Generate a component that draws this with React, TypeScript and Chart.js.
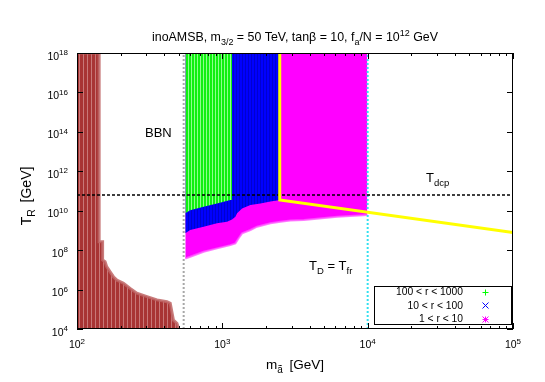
import { useEffect, useRef } from 'react';
import { Chart, registerables } from 'chart.js';
Chart.register(...registerables);

const FONT = '"Liberation Sans", Arial, Helvetica, sans-serif';

// axis ranges
const X_MIN = 100, X_MAX = 1e5, Y_MIN = 1e4, Y_MAX = 1e18;
const xTickExps = [2, 3, 4, 5];
const yTickExps = [4, 6, 8, 10, 12, 14, 16, 18];

// regions (boundaries)
const brownM = [100, 142, 142, 150, 150, 156, 160, 169, 178, 188, 209, 232, 258, 303, 355, 416, 438, 461, 487, 500];
const brownT = [1e18, 1e18, 2.7e8, 2.7e8, 3.2e7, 2.6e7, 1.45e7, 7.9e6, 4.5e6, 3.0e6, 2.1e6, 1.15e6, 6.5e5, 4.4e5, 3.0e5, 2.4e5, 2.0e5, 2.8e4, 1.95e4, 1.07e4];

const greenM = [556, 601, 743, 919, 1135, 1166];
const greenT = [7.4e9, 1.07e10, 1.6e10, 2.3e10, 3.5e10, 3.5e10];

const blueM = [556, 601, 743, 919, 1077, 1166, 1230, 1263, 1367, 1560, 1827, 2142, 2500];
const blueT = [7.1e8, 1.05e9, 1.55e9, 2.3e9, 2.75e9, 3.6e9, 5e9, 7.4e9, 1.3e10, 1.95e10, 2.35e10, 2.9e10, 3.5e10];

const magM = [556, 601, 743, 919, 1135, 1230, 1295, 1367, 1560, 1734, 2142, 2512, 2944, 3639, 6180, 9950];
const magT = [3.8e7, 4.6e7, 8.3e7, 1.23e8, 1.8e8, 2.2e8, 4e8, 7.1e8, 1.05e9, 1.55e9, 2.3e9, 2.75e9, 3.2e9, 3.4e9, 4.9e9, 6e9];

const yellowM = [2483, 2483, 1e5];
const yellowT = [1e18, 3.47e10, 7.9e8];

const T_DCP = 6.25e10;
const M_BBN = 542;
const M_FR = 1e4;

const legendLabels = ['100 < r < 1000', '10 < r < 100', '1 < r < 10'];

type Part = { t: string; k?: 'sub' | 'sup' };

function drawRich(ctx: CanvasRenderingContext2D, parts: Part[], x: number, y: number, align: 'left' | 'center' | 'right', size: number, small: number) {
  let w = 0;
  for (const p of parts) {
    ctx.font = `${p.k ? small : size}px ${FONT}`;
    w += ctx.measureText(p.t).width;
  }
  let cx = align === 'center' ? x - w / 2 : align === 'right' ? x - w : x;
  ctx.textAlign = 'left';
  ctx.textBaseline = 'alphabetic';
  for (const p of parts) {
    ctx.font = `${p.k ? small : size}px ${FONT}`;
    const dy = p.k === 'sub' ? size * 0.3 : p.k === 'sup' ? -size * 0.42 : 0;
    ctx.fillText(p.t, cx, y + dy);
    cx += ctx.measureText(p.t).width;
  }
}

function makePattern(base: string, stripe: string, period: number): CanvasPattern | string {
  const c = document.createElement('canvas');
  c.width = period;
  c.height = 6;
  const g = c.getContext('2d');
  if (!g) return base;
  g.fillStyle = base;
  g.fillRect(0, 0, period, 6);
  g.fillStyle = stripe;
  g.fillRect(period - 1, 0, 1, 6);
  const p = g.createPattern(c, 'repeat');
  return p || base;
}

const pts = (m: number[], t: number[]) => m.map((v, i) => ({ x: v, y: t[i] }));

const framePlugin = {
  id: 'frame',
  afterDraw(chart: any) {
    const ctx: CanvasRenderingContext2D = chart.ctx;
    const { left, right, top, bottom } = chart.chartArea;
    const xs = chart.scales.x;
    const ys = chart.scales.y;
    ctx.save();
    ctx.strokeStyle = '#000';
    ctx.lineWidth = 1;
    ctx.strokeRect(Math.round(left) + 0.5, Math.round(top) + 0.5, Math.round(right - left) - 1, Math.round(bottom - top) - 1);
    // x ticks
    ctx.beginPath();
    for (let e = 2; e <= 5; e++) {
      for (let k = 1; k <= 9; k++) {
        const v = k * Math.pow(10, e);
        if (v > X_MAX) break;
        const px = Math.round(xs.getPixelForValue(v)) + 0.5;
        const len = k === 1 ? 6 : 3;
        ctx.moveTo(px, bottom);
        ctx.lineTo(px, bottom - len);
        ctx.moveTo(px, top);
        ctx.lineTo(px, top + len);
      }
    }
    for (const e of yTickExps) {
      const py = Math.round(ys.getPixelForValue(Math.pow(10, e))) + 0.5;
      ctx.moveTo(left, py);
      ctx.lineTo(left + 6, py);
      ctx.moveTo(right, py);
      ctx.lineTo(right - 6, py);
    }
    ctx.stroke();

    ctx.fillStyle = '#000';
    for (const e of xTickExps) {
      const px = xs.getPixelForValue(Math.pow(10, e));
      drawRich(ctx, [{ t: '10' }, { t: String(e), k: 'sup' }], px, bottom + 19, 'center', 10.5, 8);
    }
    for (const e of yTickExps) {
      const py = ys.getPixelForValue(Math.pow(10, e));
      drawRich(ctx, [{ t: '10' }, { t: String(e), k: 'sup' }], left - 9, py + 6.5, 'right', 10.5, 8);
    }

    // title
    drawRich(ctx, [
      { t: 'inoAMSB, m' }, { t: '3/2', k: 'sub' }, { t: ' = 50 TeV, tanβ = 10, f' }, { t: 'a', k: 'sub' },
      { t: '/N = 10' }, { t: '12', k: 'sup' }, { t: ' GeV' },
    ], (left + right) / 2, 41, 'center', 12.4, 9);

    // axis titles
    drawRich(ctx, [{ t: 'm' }, { t: 'ã ', k: 'sub' }, { t: ' [GeV]' }], (left + right) / 2, 369, 'center', 13.5, 10);
    ctx.save();
    ctx.translate(31, 196);
    ctx.rotate(-Math.PI / 2);
    drawRich(ctx, [{ t: 'T' }, { t: 'R ', k: 'sub' }, { t: ' [GeV]' }], 0, 0, 'center', 14, 10.5);
    ctx.restore();

    // annotations
    drawRich(ctx, [{ t: 'BBN' }], 145, 137, 'left', 13, 9);
    drawRich(ctx, [{ t: 'T' }, { t: 'dcp', k: 'sub' }], 426, 182, 'left', 13, 9.5);
    drawRich(ctx, [{ t: 'T' }, { t: 'D', k: 'sub' }, { t: ' = T' }, { t: 'fr', k: 'sub' }], 309, 270, 'left', 13, 9.5);

    // legend
    const bx = 374.5, by = 286.5, bw = 137, bh = 38;
    ctx.fillStyle = '#fff';
    ctx.fillRect(bx, by, bw, bh);
    ctx.strokeStyle = '#000';
    ctx.lineWidth = 1;
    ctx.strokeRect(bx, by, bw, bh);
    const rowsY = [291.5, 305, 318.5];
    const mcols = ['#00ff00', '#0000ff', '#ff00ff'];
    ctx.fillStyle = '#000';
    legendLabels.forEach((lab, i) => {
      drawRich(ctx, [{ t: lab }], 463, rowsY[i] + 3.6, 'right', 10.3, 8);
    });
    ctx.lineWidth = 1;
    rowsY.forEach((y, i) => {
      const cx = 485.5, cy = Math.round(y) + 0.5, s = 3;
      ctx.strokeStyle = mcols[i];
      ctx.beginPath();
      if (i === 0 || i === 2) {
        ctx.moveTo(cx - s, cy); ctx.lineTo(cx + s, cy);
        ctx.moveTo(cx, cy - s); ctx.lineTo(cx, cy + s);
      }
      if (i === 1 || i === 2) {
        ctx.moveTo(cx - s, cy - s); ctx.lineTo(cx + s, cy + s);
        ctx.moveTo(cx - s, cy + s); ctx.lineTo(cx + s, cy - s);
      }
      ctx.stroke();
    });
    ctx.restore();
  },
};

export default function App() {
  const ref = useRef<HTMLCanvasElement | null>(null);
  useEffect(() => {
    document.body.style.margin = '0';
    const canvas = ref.current;
    if (!canvas) return;
    const brownFill = makePattern('#a83434', '#c87878', 4);
    const greenFill = makePattern('#10f010', '#8cff8c', 3);
    const blueFill = makePattern('#0000ff', '#0000d0', 3);
    const chart = new Chart(canvas, {
      type: 'scatter',
      data: {
        datasets: [
          { label: 'yellow', data: pts(yellowM, yellowT), showLine: true, borderColor: '#ffff00', borderWidth: 3, pointRadius: 0, fill: false, order: 0 },
          { label: 'Tdcp', data: [{ x: X_MIN, y: T_DCP }, { x: X_MAX, y: T_DCP }], showLine: true, borderColor: '#000', borderWidth: 1.3, borderDash: [3, 2], pointRadius: 0, fill: false, order: 1 },
          { label: 'freeze', data: [{ x: M_FR, y: Y_MIN }, { x: M_FR, y: Y_MAX }], showLine: true, borderColor: '#33e0f0', borderWidth: 2, borderDash: [2, 2], pointRadius: 0, fill: false, order: 2 },
          { label: 'BBN', data: [{ x: M_BBN, y: Y_MIN }, { x: M_BBN, y: Y_MAX }], showLine: true, borderColor: '#a8a8a8', borderWidth: 2, borderDash: [2, 2], pointRadius: 0, fill: false, order: 3 },
          { label: legendLabels[0], data: pts(greenM, greenT), showLine: true, borderWidth: 0, borderColor: 'rgba(0,0,0,0)', backgroundColor: greenFill as any, pointRadius: 0, fill: 'end', order: 5 },
          { label: legendLabels[1], data: pts(blueM, blueT), showLine: true, borderWidth: 0, borderColor: 'rgba(0,0,0,0)', backgroundColor: blueFill as any, pointRadius: 0, fill: 'end', order: 6 },
          { label: legendLabels[2], data: pts(magM, magT), showLine: true, borderWidth: 2, borderColor: 'rgba(255,90,255,0.8)', backgroundColor: '#ff00ff', pointRadius: 0, fill: 'end', order: 7 },
          { label: 'brown', data: pts(brownM, brownT), showLine: true, borderWidth: 3, borderColor: 'rgba(190,100,100,0.85)', backgroundColor: brownFill as any, pointRadius: 0, fill: 'start', order: 8 },
        ],
      },
      options: {
        animation: false,
        responsive: false,
        maintainAspectRatio: false,
        layout: { padding: { left: 77, right: 32, top: 53, bottom: 53 } },
        plugins: { legend: { display: false }, tooltip: { enabled: false }, title: { display: false } },
        elements: { line: { tension: 0 }, point: { radius: 0 } },
        scales: {
          x: { type: 'logarithmic', min: X_MIN, max: X_MAX, display: false },
          y: { type: 'logarithmic', min: Y_MIN, max: Y_MAX, display: false },
        },
      },
      plugins: [framePlugin],
    } as any);
    return () => chart.destroy();
  }, []);
  return <canvas ref={ref} width={545} height={382} style={{ display: 'block', width: 545, height: 382 }} />;
}
